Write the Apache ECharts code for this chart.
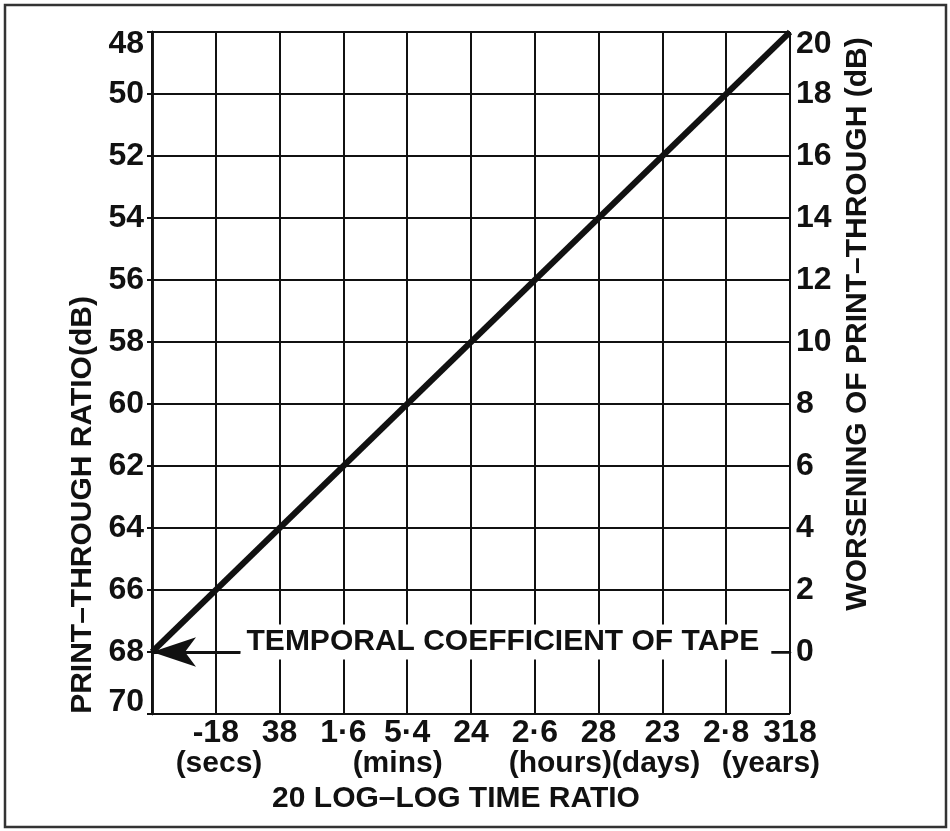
<!DOCTYPE html>
<html>
<head>
<meta charset="utf-8">
<script src="https://cdn.jsdelivr.net/npm/echarts@6.0.0/dist/echarts.min.js"></script>
<style>
  html, body { margin: 0; padding: 0; background: #fff; }
  #chart { width: 950px; height: 831px; }
</style>
</head>
<body>
<div id="chart"></div>
<script>
// bottom tick labels, one per vertical grid line (first line has none)
const timeLabels = ['', '-18', '38', '1·6', '5·4', '24', '2·6', '28', '23', '2·8', '318'];
// unit captions under the tick labels, and where they sit on the time scale
const unitLabels = ['(secs)', '(mins)', '(hours)', '(days)', '(years)'];
const unitAt = [1.05, 3.85, 6.4, 7.9, 9.7];

// the one plotted line: print-through ratio against time step
const timeSteps = [0, 10];
const printRatio = [68, 48];

// annotation
const noteText = 'TEMPORAL COEFFICIENT OF TAPE';
const noteLevel = 68;
const noteStart = 1.38;

const ink = '#111';
const font = 'Liberation Sans';
const textBase = { color: ink, fontFamily: font, fontWeight: 'bold', fontSize: 30 };
const numBase = { ...textBase, fontSize: 32 };

const chart = echarts.init(document.getElementById('chart'));

const edgeRich = {
    lo: { padding: [24, 0, 0, 0], ...numBase },
    hi: { padding: [0, 0, 24, 0], ...numBase }
};

let option = {
    backgroundColor: '#fff',
    animation: false,
    grid: { left: 152, right: 160, top: 32, bottom: 117 },
    graphic: [{
        type: 'rect',
        shape: { x: 5, y: 5, width: 941, height: 822 },
        style: { fill: 'none', stroke: '#333', lineWidth: 2.5 },
        silent: true
    }],
    xAxis: [
        {
            type: 'value',
            min: 0, max: 10, interval: 1,
            position: 'bottom',
            name: '20 LOG–LOG TIME RATIO',
            nameLocation: 'middle',
            nameGap: 70,
            nameTextStyle: { ...textBase, verticalAlign: 'top', padding: [0, 30, 0, 0] },
            axisLine: { show: true, lineStyle: { color: ink, width: 2.5 } },
            axisTick: { show: false },
            splitLine: { show: true, lineStyle: { color: ink, width: 2 } },
            axisLabel: {
                ...numBase,
                margin: 3,
                formatter: (v) => timeLabels[Math.round(v)] || ''
            }
        },
        {
            type: 'value',
            min: 0, max: 10,
            position: 'bottom',
            offset: 31,
            axisLine: { show: false },
            axisTick: { show: false },
            splitLine: { show: false },
            axisLabel: {
                ...textBase,
                margin: 4,
                customValues: unitAt,
                formatter: (v) => {
                    let i = unitAt.findIndex((u) => Math.abs(u - v) < 1e-6);
                    return i >= 0 ? unitLabels[i] : '';
                }
            }
        }
    ],
    yAxis: [
        {
            type: 'value',
            min: 48, max: 70, interval: 2,
            inverse: true,
            position: 'left',
            name: 'PRINT–THROUGH RATIO(dB)',
            nameLocation: 'middle',
            nameGap: 54,
            nameRotate: 90,
            nameTextStyle: { ...textBase, padding: [0, 264, 0, 0] },
            axisLine: { show: true, lineStyle: { color: ink, width: 2.5 } },
            axisTick: { show: true, length: 5, lineStyle: { color: ink, width: 2 } },
            splitLine: { show: true, lineStyle: { color: ink, width: 2 } },
            axisLabel: {
                ...numBase,
                margin: 8,
                rich: edgeRich,
                formatter: (v) => {
                    if (v === 48) return '{lo|48}';
                    if (v === 70) return '{hi|70}';
                    return String(v);
                }
            }
        },
        {
            type: 'value',
            min: -2, max: 20, interval: 2,
            position: 'right',
            name: 'WORSENING OF PRINT–THROUGH (dB)',
            nameLocation: 'middle',
            nameGap: 52,
            nameRotate: 90,
            nameTextStyle: { ...textBase, padding: [0, 0, 0, 98] },
            axisLine: { show: true, lineStyle: { color: ink, width: 2.5 } },
            axisTick: { show: false },
            splitLine: { show: false },
            axisLabel: {
                ...numBase,
                margin: 6,
                rich: edgeRich,
                formatter: (v) => {
                    if (v < 0) return '';
                    if (v === 20) return '{lo|20}';
                    return String(v);
                }
            }
        }
    ],
    series: [
        {
            type: 'line',
            xAxisIndex: 0,
            yAxisIndex: 0,
            data: timeSteps.map((t, i) => [t, printRatio[i]]),
            showSymbol: false,
            lineStyle: { color: ink, width: 6 },
            silent: true,
            markLine: {
                silent: true,
                symbol: ['none', 'none'],
                label: { show: false },
                lineStyle: { color: ink, width: 3, type: 'solid' },
                data: [
                    [
                        { coord: [noteStart, noteLevel], symbol: 'none' },
                        { coord: [0, noteLevel], symbol: 'arrow', symbolSize: [22, 44] }
                    ]
                ]
            },
            markPoint: {
                silent: true,
                symbol: 'circle',
                symbolSize: 1,
                itemStyle: { color: 'rgba(0,0,0,0)' },
                data: [{ coord: [noteStart, noteLevel] }],
                label: {
                    show: true,
                    position: 'right',
                    distance: 0,
                    offset: [0, -10],
                    ...textBase,
                    backgroundColor: '#fff',
                    padding: [2, 12, 3, 6],
                    formatter: noteText
                }
            }
        }
    ]
};

option && chart.setOption(option);
</script>
</body>
</html>
